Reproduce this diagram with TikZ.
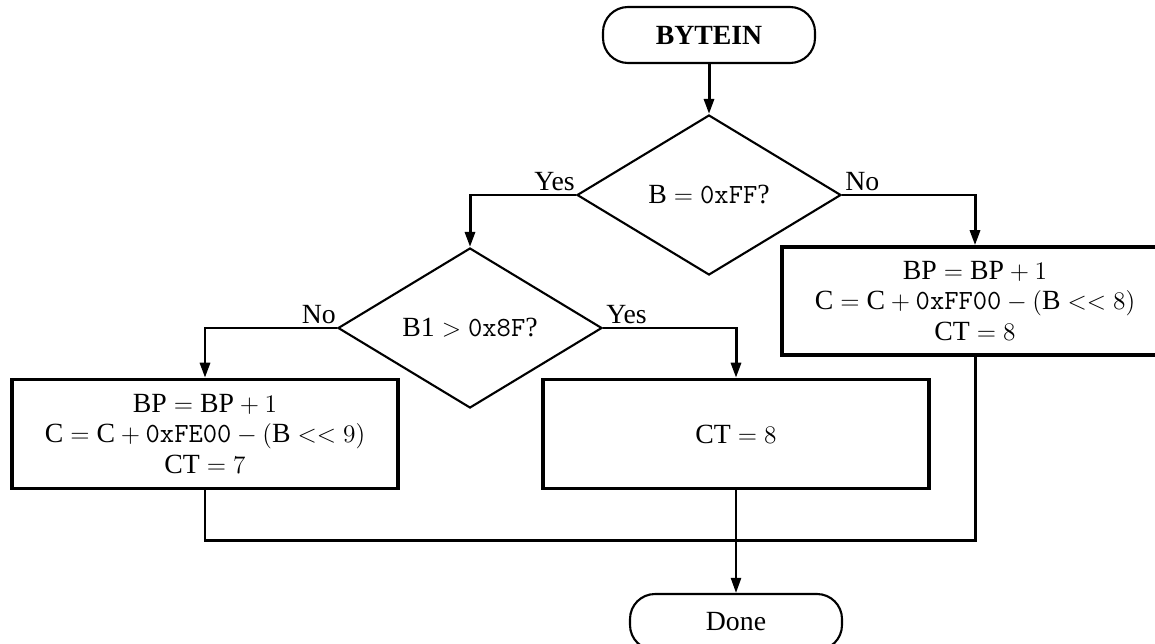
\documentclass[tikz,border=0pt]{standalone}
\usepackage[no-math]{fontspec}
\setmainfont{Liberation Serif}
\usepackage{amsmath}
\usepackage{tikz}
\usetikzlibrary{
  arrows.meta,
  positioning,
  shapes.geometric,
  calc
}
\tikzset{
  terminal/.style={rectangle, draw, line width=1.2pt, rounded corners=0.5cm, minimum width=4.24cm, minimum height=1.12cm, inner sep=0pt},
  decision/.style={diamond, draw, line width=1.2pt, minimum width=5.28cm, minimum height=3.2cm, inner sep=0pt},
  process/.style={rectangle, draw, line width=2pt, minimum width=7.72cm, minimum height=2.18cm, align=center, inner sep=0pt},
  flow/.style={line width=1.7pt, -{Triangle[length=0.3cm, width=0.2cm]}},
  link/.style={line width=1.7pt},
  answer/.style={inner sep=0.5pt}
}
\newcommand{\eqs}{${}={}$}
\begin{document}
\begin{tikzpicture}[font=\fontsize{15.8}{17.5}\selectfont]
  \useasboundingbox (0, 0) rectangle (23.1, 12.86);
  \node[terminal] (start) at (14.18, 12.16) {\textbf{BYTEIN}};
  \node[decision] (isff) at (14.18, 8.96) {B\eqs\texttt{0xFF}?};
  \node[decision] (ishigh) at (9.40, 6.30) {B1${}>{}$\texttt{0x8F}?};
  \node[process] (incnine) at (4.10, 4.18) {BP\eqs BP${}+1$\\C\eqs C${}+{}$\texttt{0xFE00}${}-($B${}<<9)$\\CT\eqs$7$};
  \node[process] (keep) at (14.72, 4.18) {CT\eqs$8$};
  \node[process] (inceight) at (19.5, 6.84) [minimum height=2.16cm] {BP\eqs BP${}+1$\\C\eqs C${}+{}$\texttt{0xFF00}${}-($B${}<<8)$\\CT\eqs$8$};
  \node[terminal] (done) at (14.72, 0.42) {Done};
  \coordinate (join) at (14.72, 2.06);
  % answers on the branches
  \node[answer, anchor=base east] (isffyes) at ($(isff.west)+(0, 0.09)$) {Yes};
  \node[answer, anchor=base west] (isffno) at ($(isff.east)+(0.04, 0.09)$) {No};
  \node[answer, anchor=base east] (ishighno) at ($(ishigh.west)+(0, 0.09)$) {No};
  \node[answer, anchor=base west] (ishighyes) at ($(ishigh.east)+(0.04, 0.09)$) {Yes};
  \draw[flow] (start) -- (isff);
  \draw[flow] (isff.west) -| (ishigh.north);
  \draw[flow] (isff.east) -| (inceight.north);
  \draw[flow] (ishigh.west) -| (incnine.north);
  \draw[flow] (ishigh.east) -| (keep.north);
  \draw[link] (incnine.south) |- (join) -| (inceight.south);
  \draw[link, line width=1.3pt] (keep.south) -- (join);
  \draw[flow, line width=1.3pt] (join) -- (done);
\end{tikzpicture}
\end{document}
